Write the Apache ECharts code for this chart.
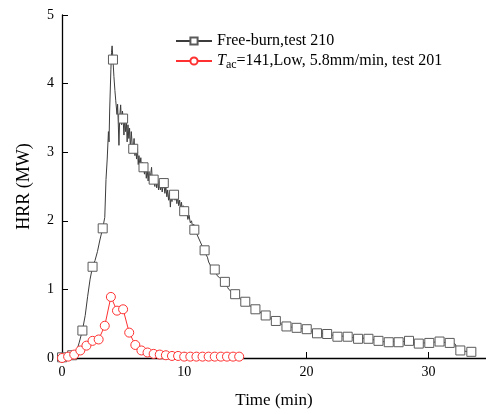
<!DOCTYPE html>
<html><head><meta charset="utf-8">
<script src="https://cdn.jsdelivr.net/npm/echarts@6/dist/echarts.min.js"></script>
<style>html,body{margin:0;padding:0;background:#fff}#c{width:486px;height:414px}</style>
</head><body><div id="c"></div>
<script>
// Free-burn, test 210 : marker points (every ~50 s)
const blackMarkerT = [0, 0.83, 1.67, 2.5, 3.33, 4.17, 5.0, 5.83, 6.67, 7.5, 8.33, 9.17, 10.0, 10.83, 11.67, 12.5, 13.33, 14.17, 15.0, 15.83, 16.67, 17.5, 18.37, 19.2, 20.03, 20.87, 21.7, 22.54, 23.38, 24.23, 25.08, 25.9, 26.74, 27.55, 28.4, 29.2, 30.06, 30.9, 31.73, 32.6, 33.5];
const blackMarkerY = [0.01, 0.04, 0.40, 1.33, 1.89, 4.35, 3.49, 3.05, 2.78, 2.60, 2.55, 2.38, 2.14, 1.87, 1.57, 1.29, 1.11, 0.93, 0.82, 0.71, 0.62, 0.54, 0.46, 0.44, 0.42, 0.36, 0.35, 0.31, 0.31, 0.28, 0.28, 0.25, 0.23, 0.23, 0.25, 0.21, 0.22, 0.24, 0.22, 0.11, 0.09];
// Free-burn, test 210 : intermediate (noisy) readings between markers
const blackLineT = [0.3, 0.5, 1.0, 1.2, 1.4, 1.9, 2.1, 2.3, 2.6, 2.7, 2.9, 3.1, 3.5, 3.6, 3.7, 3.8, 3.85, 3.9, 4.0, 4.05, 4.1, 4.25, 4.33, 4.4, 4.5, 4.55, 4.6, 4.66, 4.72, 4.8, 4.88, 4.95, 5.07, 5.13, 5.2, 5.27, 5.33, 5.4, 5.47, 5.53, 5.6, 5.67, 5.75, 5.9, 5.97, 6.03, 6.1, 6.17, 6.24, 6.3, 6.37, 6.45, 6.52, 6.6, 6.75, 6.82, 6.9, 6.97, 7.05, 7.12, 7.2, 7.27, 7.33, 7.4, 7.6, 7.68, 7.75, 7.83, 7.9, 7.97, 8.05, 8.12, 8.2, 8.27, 8.42, 8.5, 8.58, 8.65, 8.72, 8.8, 8.87, 8.93, 9.0, 9.08, 9.25, 9.33, 9.4, 9.48, 9.55, 9.63, 9.7, 9.78, 9.85, 9.92, 10.1, 10.2, 10.3, 10.4, 10.5, 10.6, 10.7, 10.78, 10.95, 11.05, 11.15, 11.25, 11.35, 11.45, 11.55, 11.8, 11.9, 12.0, 12.1, 12.2, 12.3, 12.4, 12.6, 12.7, 12.8, 12.9, 13.0, 13.1, 13.2, 13.45, 13.55, 13.65, 13.75, 13.85, 13.95, 14.05, 14.3, 14.45, 14.6, 14.75, 14.9, 15.2, 15.4, 15.6, 16.1, 16.3, 16.5, 16.9, 17.1, 17.3, 17.8, 18.0, 18.2, 18.8, 19.6, 20.4, 21.2, 22.0, 22.9, 23.7, 24.6, 25.4, 26.2, 27.1, 27.9, 28.7, 29.6, 30.4, 31.2, 32.0, 32.2, 32.3, 32.9, 33.6];
const blackLineY = [0.01, 0.02, 0.05, 0.10, 0.22, 0.62, 0.90, 1.15, 1.38, 1.42, 1.55, 1.72, 2.05, 2.60, 2.90, 3.30, 3.15, 3.60, 4.20, 4.45, 4.55, 4.10, 3.90, 3.75, 3.55, 3.70, 3.45, 3.10, 3.50, 3.69, 3.40, 3.60, 3.25, 3.50, 3.30, 3.45, 3.15, 3.40, 3.20, 3.35, 3.05, 3.30, 3.10, 3.20, 2.95, 3.10, 2.90, 3.05, 2.82, 2.95, 2.80, 2.92, 2.72, 2.85, 2.68, 2.82, 2.62, 2.75, 2.58, 2.72, 2.55, 2.70, 2.78, 2.55, 2.50, 2.65, 2.48, 2.60, 2.45, 2.58, 2.45, 2.56, 2.42, 2.52, 2.40, 2.50, 2.35, 2.45, 2.30, 2.42, 2.20, 2.38, 2.28, 2.42, 2.30, 2.40, 2.25, 2.36, 2.22, 2.30, 2.18, 2.27, 2.12, 2.22, 2.08, 2.15, 2.02, 2.08, 1.97, 2.00, 1.90, 1.95, 1.85, 1.80, 1.78, 1.72, 1.70, 1.64, 1.60, 1.50, 1.47, 1.40, 1.38, 1.33, 1.35, 1.28, 1.25, 1.20, 1.22, 1.17, 1.16, 1.14, 1.15, 1.06, 1.03, 1.00, 1.01, 0.97, 0.97, 0.94, 0.90, 0.88, 0.86, 0.85, 0.83, 0.79, 0.76, 0.73, 0.68, 0.66, 0.63, 0.59, 0.58, 0.56, 0.51, 0.49, 0.47, 0.45, 0.43, 0.39, 0.36, 0.34, 0.32, 0.30, 0.29, 0.27, 0.24, 0.24, 0.24, 0.23, 0.22, 0.23, 0.23, 0.22, 0.20, 0.13, 0.10, 0.09];
// Tac=141, Low, 5.8 mm/min, test 201 : marker points (every 30 s)
const redMarkerT = [0, 0.5, 1.0, 1.5, 2.0, 2.5, 3.0, 3.5, 4.0, 4.5, 5.0, 5.5, 6.0, 6.5, 7.0, 7.5, 8.0, 8.5, 9.0, 9.5, 10.0, 10.5, 11.0, 11.5, 12.0, 12.5, 13.0, 13.5, 14.0, 14.5];
const redMarkerY = [0.00, 0.02, 0.05, 0.11, 0.18, 0.25, 0.27, 0.47, 0.89, 0.69, 0.71, 0.37, 0.19, 0.11, 0.08, 0.06, 0.05, 0.04, 0.03, 0.03, 0.02, 0.02, 0.02, 0.02, 0.02, 0.02, 0.02, 0.02, 0.02, 0.02];
const redLineT = [4.75];
const redLineY = [0.76];
const xTicks = [0, 10, 20, 30];
const yTicks = [0, 1, 2, 3, 4, 5];
const name1 = 'Free-burn,test 210';
const name2 = 'Tac=141,Low, 5.8mm/min, test 201';

function build(mt, my, lt, ly) {
  const pts = [];
  mt.forEach((t, i) => pts.push({ value: [t, my[i]] }));
  lt.forEach((t, i) => pts.push({ value: [t, ly[i]], symbol: 'none' }));
  pts.sort((a, b) => a.value[0] - b.value[0]);
  return pts;
}

const font = 'Liberation Serif';
const chart = echarts.init(document.getElementById('c'), null, { renderer: 'canvas' });
chart.setOption({
  animation: false,
  backgroundColor: '#fff',
  grid: { left: 62, top: 15, right: 0, bottom: 56, containLabel: false },
  legend: {
    orient: 'vertical', left: 170, top: 28, itemWidth: 36, itemHeight: 9, itemGap: 4,
    data: [name1, name2],
    textStyle: {
      fontFamily: font, fontSize: 16, color: '#000',
      rich: {
        i: { fontFamily: font, fontStyle: 'italic', fontSize: 16, color: '#000' },
        s: { fontFamily: font, fontSize: 12, color: '#000', verticalAlign: 'bottom', padding: [8, 0, 0, 0] },
        n: { fontFamily: font, fontSize: 16, color: '#000' }
      }
    },
    formatter: function (n) {
      if (n === name2) return '{i|T}{s|ac}{n|=141,Low, 5.8mm/min, test 201}';
      return n;
    }
  },
  xAxis: {
    type: 'value', min: 0, max: 34.7,
    name: 'Time (min)', nameLocation: 'middle', nameGap: 34,
    nameTextStyle: { fontFamily: font, fontSize: 17, color: '#000' },
    axisLine: { lineStyle: { color: '#000', width: 1.3 } },
    axisTick: { inside: true, length: 6, customValues: xTicks, lineStyle: { color: '#000' } },
    axisLabel: { customValues: xTicks, fontFamily: font, fontSize: 14, color: '#000', margin: 7 },
    splitLine: { show: false }
  },
  yAxis: {
    type: 'value', min: 0, max: 5, interval: 1,
    name: 'HRR (MW)', nameLocation: 'middle', nameGap: 29,
    nameTextStyle: { fontFamily: font, fontSize: 18, color: '#000' },
    axisLine: { show: true, lineStyle: { color: '#000', width: 1.3 } },
    axisTick: { show: true, inside: true, length: 6, lineStyle: { color: '#000' } },
    axisLabel: { fontFamily: font, fontSize: 14, color: '#000', margin: 8 },
    splitLine: { show: false }
  },
  series: [
    {
      name: name1, type: 'line', data: build(blackMarkerT, blackMarkerY, blackLineT, blackLineY),
      symbol: 'rect', symbolSize: 9, showAllSymbol: true,
      lineStyle: { color: '#3c3c3c', width: 1 },
      itemStyle: { color: '#fff', borderColor: '#5a5a5a', borderWidth: 1 }
    },
    {
      name: name2, type: 'line', data: build(redMarkerT, redMarkerY, redLineT, redLineY),
      symbol: 'circle', symbolSize: 9, showAllSymbol: true,
      lineStyle: { color: '#ff3030', width: 1 },
      itemStyle: { color: '#fff', borderColor: '#ff3030', borderWidth: 1 }
    }
  ]
});
</script></body></html>
